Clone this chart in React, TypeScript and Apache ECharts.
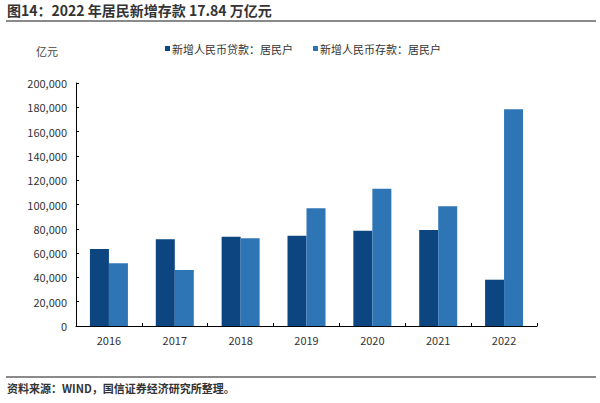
import React, { useEffect, useRef } from "react";
import * as echarts from "echarts";

const categories = ["2016", "2017", "2018", "2019", "2020", "2021", "2022"];
const loans = [63400, 71400, 73500, 74300, 78400, 79000, 38100];
const deposits = [51600, 46100, 72200, 96900, 113000, 98500, 178400];
const seriesNames = ["新增人民币贷款：居民户", "新增人民币存款：居民户"];
const titleText = "图14：2022 年居民新增存款 17.84 万亿元";
const sourceText = "资料来源：WIND，国信证券经济研究所整理。";
const unitText = "亿元";

const FONT = "'Noto Sans CJK SC', 'Noto Sans', sans-serif";

export default function App() {
  const ref = useRef<HTMLDivElement>(null);
  useEffect(() => {
    if (!ref.current) return;
    const chart = echarts.init(ref.current, undefined, { renderer: "svg" });
    chart.setOption({
      animation: false,
      backgroundColor: "#ffffff",
      textStyle: { fontFamily: FONT },
      graphic: [
        {
          type: "text",
          left: 7,
          top: 3,
          style: { text: titleText, fontSize: 14, fontWeight: "bold", fill: "#333", fontFamily: FONT },
        },
        {
          type: "rect",
          shape: { x: 6, y: 20, width: 590, height: 2 },
          style: { fill: "#8a8a8a" },
        },
        {
          type: "text",
          left: 36,
          top: 45,
          style: { text: unitText, fontSize: 11, fill: "#444", fontFamily: FONT },
        },
        {
          type: "rect",
          shape: { x: 6, y: 376, width: 590, height: 2 },
          style: { fill: "#8a8a8a" },
        },
        {
          type: "text",
          left: 7,
          top: 382,
          style: { text: sourceText, fontSize: 11, fontWeight: "bold", fill: "#333", fontFamily: FONT },
        },
      ],
      legend: {
        top: 38,
        left: 160,
        itemGap: 20,
        itemWidth: 5,
        itemHeight: 5,
        icon: "rect",
        textStyle: { fontSize: 11, color: "#333", fontFamily: FONT, padding: [0, 0, 0, -3] },
        data: seriesNames,
      },
      grid: { left: 76, right: 63, top: 83, bottom: 77, containLabel: false },
      xAxis: {
        type: "category",
        data: categories,
        axisLine: { lineStyle: { color: "#000", width: 1 } },
        axisTick: { show: true, inside: true, length: 3, alignWithLabel: false, lineStyle: { color: "#000" } },
        axisLabel: { fontSize: 11, color: "#333", margin: 8, fontFamily: FONT },
      },
      yAxis: {
        type: "value",
        min: 0,
        max: 200000,
        interval: 20000,
        axisLine: { show: true, lineStyle: { color: "#000", width: 1 } },
        axisTick: { show: true, inside: true, length: 3, lineStyle: { color: "#000" } },
        splitLine: { show: false },
        axisLabel: {
          fontSize: 11,
          color: "#333",
          margin: 9,
          fontFamily: FONT,
          formatter: (v: number) => v.toLocaleString("en-US"),
        },
      },
      series: [
        {
          name: seriesNames[0],
          type: "bar",
          data: loans,
          barWidth: 19,
          barGap: "0%",
          itemStyle: { color: "#0c4580" },
        },
        {
          name: seriesNames[1],
          type: "bar",
          data: deposits,
          barWidth: 19,
          barGap: "0%",
          itemStyle: { color: "#2e75b6" },
        },
      ],
    });
    return () => chart.dispose();
  }, []);
  return (
    <div
      ref={ref}
      style={{ width: 600, height: 403, position: "fixed", left: 0, top: 0, background: "#fff" }}
    />
  );
}
